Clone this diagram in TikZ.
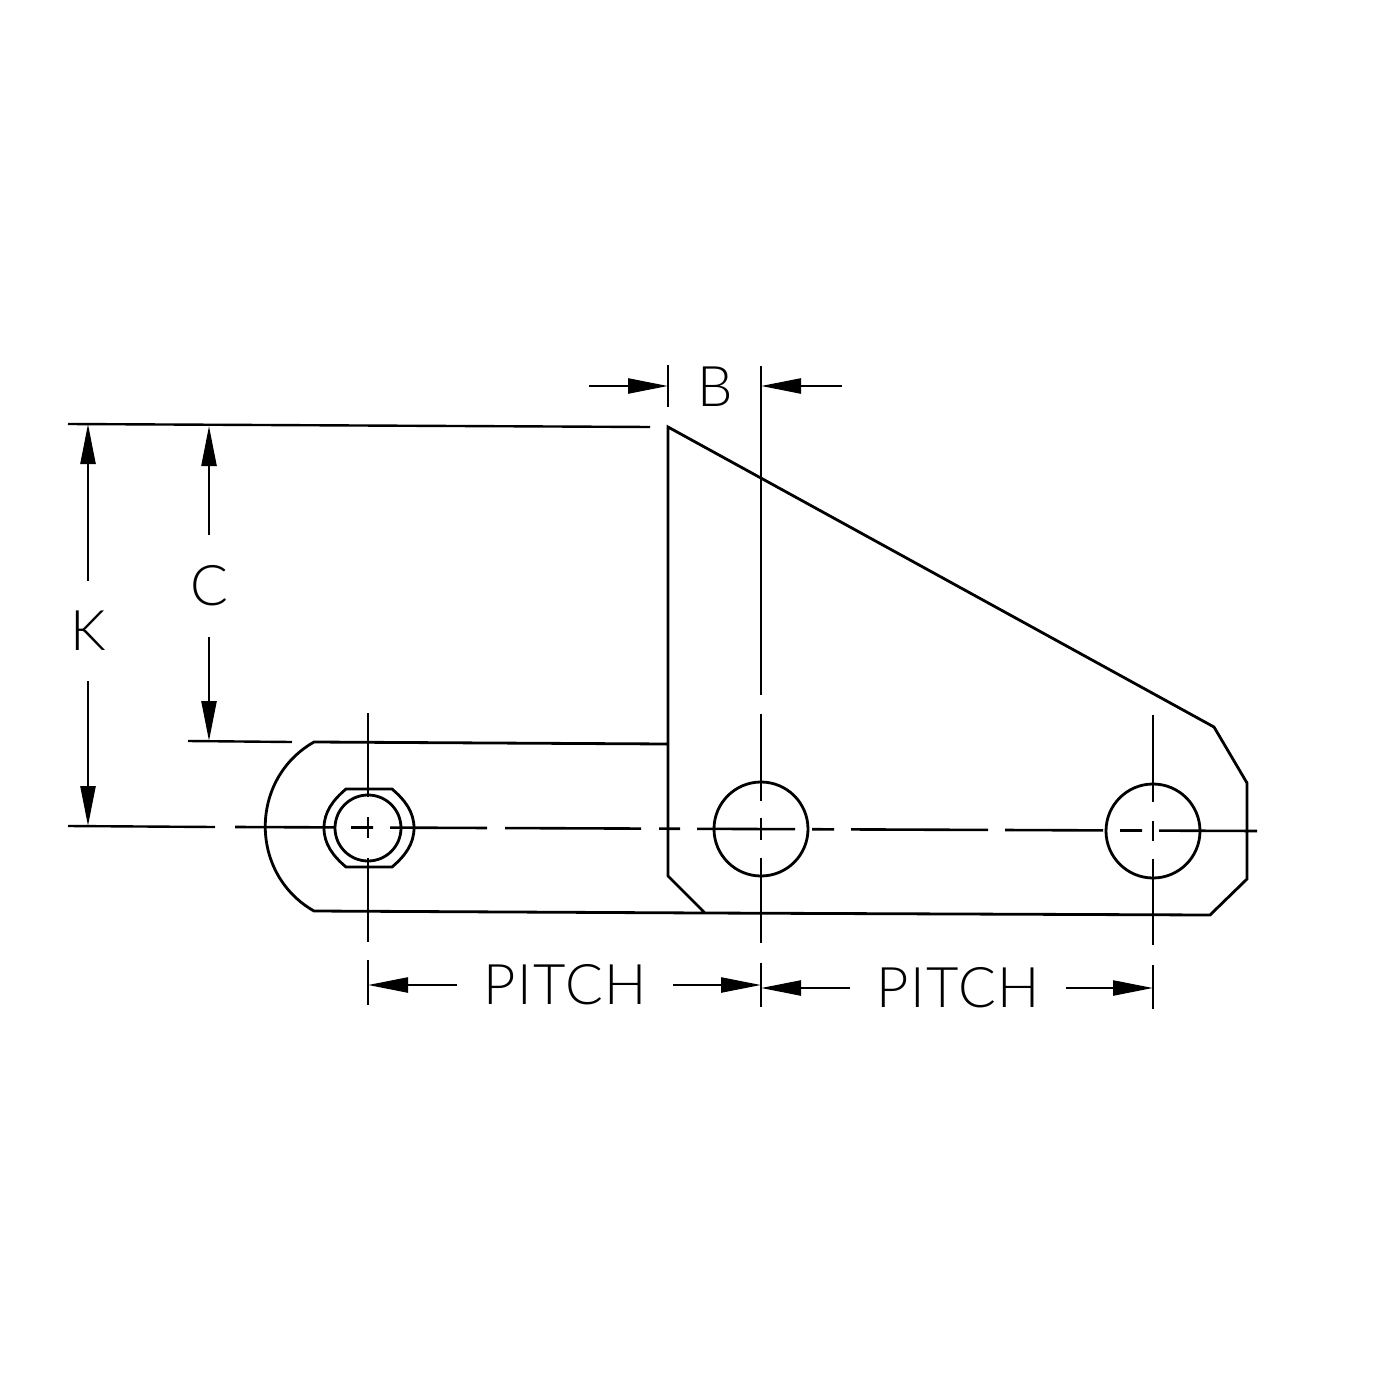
\documentclass[tikz,border=0pt]{standalone}
\usepackage{fontspec}
\setmainfont{Lato}[UprightFont=* Light]
\usetikzlibrary{arrows.meta}
\tikzstyle{partline} = [
		line width = 1.4pt,
		line join = miter
	]
\tikzstyle{centerline} = [
		line width = 1.3pt
	]
\tikzstyle{dimline} = [
		line width = 1.2pt,
		-{Triangle[length=20pt,width=7.5pt]}
	]
\tikzstyle{extline} = [
		line width = 1.2pt
	]
\tikzstyle{hole} = [
		circle,
		draw = black,
		line width = 1.4pt,
		inner sep = 0pt,
		outer sep = 0pt
	]
\tikzstyle{dimlabel} = [
		font = \fontsize{28}{30}\selectfont\addfontfeature{LetterSpace=3},
		inner xsep = 13pt,
		inner ysep = 15pt
	]

\begin{document}
\begin{tikzpicture}[x = .5pt, y = -.5pt]

		\useasboundingbox [fill = white] (0,0) rectangle (1375,1375);

		%------------------------------Link plates------------------------------
		\draw [partline] (668,744) -- (314,742)
			.. controls (249,779) and (249,874) .. (314,911)
			-- (705,913) -- (668,876) -- (668,427) -- (1214,727) -- (1247,783)
			-- (1247,879) -- (1210,915) -- (705,913);

		%------------------------------Holes------------------------------
		\draw [partline] (346,789) -- (392,789)
			.. controls (405,800) and (414,812) .. (414,828)
			.. controls (414,844) and (405,856) .. (392,867)
			-- (346,867)
			.. controls (333,856) and (324,844) .. (324,828)
			.. controls (324,812) and (333,800) .. (346,789) -- cycle;
		\node (pin) [hole, minimum size = 33pt] at (368,828) {};
		\node (holeB) [hole, minimum size = 47pt] at (761,829) {};
		\node (holeC) [hole, minimum size = 47pt] at (1153,831) {};

		%------------------------------Center lines------------------------------
		\foreach \xa/\xb in {235/335, 351/373, 390/487, 505/641, 659/680, 697/795,
				812/834, 851/988, 1005/1103, 1120/1142, 1159/1257}
			\draw [centerline] (\xa,{827+(\xa-235)*.0039}) -- (\xb,{827+(\xb-235)*.0039});
		\foreach \x/\ya/\yb in {368/713/797, 368/817/838, 368/858/942,
				761/366/695, 761/714/801, 761/818/840, 761/858/943,
				1153/715/802, 1153/821/841, 1153/859/945}
			\draw [centerline] (\x,\ya) -- (\x,\yb);

		%------------------------------Extension lines------------------------------
		\draw [extline] (668,365) -- (668,407);
		\draw [extline] (68,424) -- (650,427);
		\draw [extline] (188,741) -- (292,742);
		\draw [extline] (68,826) -- (215,827);
		\draw [extline] (368,960) -- (368,1005);
		\draw [extline] (761,963) -- (761,1007);
		\draw [extline] (1153,965) -- (1153,1009);

		%------------------------------Dimensions------------------------------
		\node (labelB) [dimlabel] at (715,387) {B};
		\node (labelC) [dimlabel] at (209,586) {C};
		\node (labelK) [dimlabel] at (88,631) {K};
		\node (labelPitchA) [dimlabel] at (565,985) {PITCH};
		\node (labelPitchB) [dimlabel] at (958,988) {PITCH};

		\coordinate (tailBL) at (589,386);
		\coordinate (tipBL) at (668,386);
		\coordinate (tailBR) at (842,386);
		\coordinate (tipBR) at (761,386);
		\coordinate (tipCT) at (209,426);
		\coordinate (tipCB) at (209,741);
		\coordinate (tipKT) at (88,424);
		\coordinate (tipKB) at (88,826);
		\coordinate (tipAL) at (368,985);
		\coordinate (tipAR) at (761,985);
		\coordinate (tipDL) at (761,988);
		\coordinate (tipDR) at (1153,988);

		\draw [dimline] (tailBL) -- (tipBL);
		\draw [dimline] (tailBR) -- (tipBR);
		\draw [dimline] (labelC) -- (tipCT);
		\draw [dimline] (labelC) -- (tipCB);
		\draw [dimline] (labelK) -- (tipKT);
		\draw [dimline] (labelK) -- (tipKB);
		\draw [dimline] (labelPitchA) -- (tipAL);
		\draw [dimline] (labelPitchA) -- (tipAR);
		\draw [dimline] (labelPitchB) -- (tipDL);
		\draw [dimline] (labelPitchB) -- (tipDR);

	\end{tikzpicture}
\end{document}
